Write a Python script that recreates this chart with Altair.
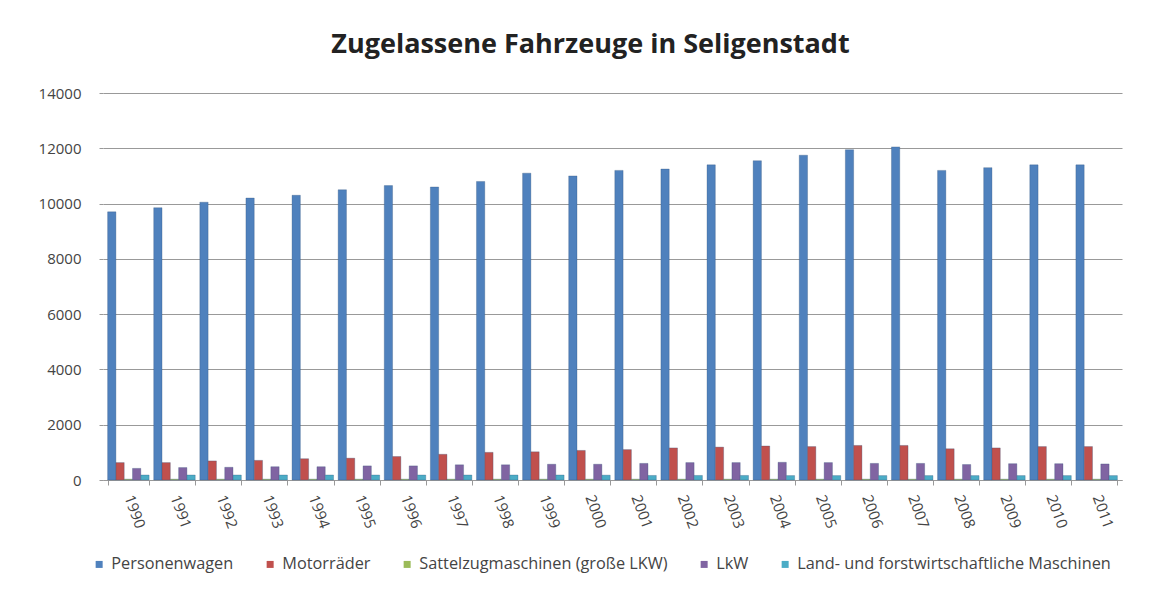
import altair as alt
import pandas as pd

years = [str(y) for y in range(1990, 2012)]
series = ["Personenwagen", "Motorräder", "Sattelzugmaschinen (große LKW)", "LkW",
          "Land- und forstwirtschaftliche Maschinen"]
colors = ["#4F81BD", "#C0504D", "#9BBB59", "#8064A2", "#4BACC6"]

pkw = [9700, 9850, 10050, 10200, 10300, 10500, 10650, 10600, 10800, 11100, 11000,
       11200, 11250, 11400, 11550, 11750, 11950, 12050, 11200, 11300, 11400, 11400]
motorraeder = [630, 630, 690, 710, 770, 790, 850, 930, 1000, 1020, 1070,
               1100, 1160, 1190, 1230, 1210, 1250, 1250, 1130, 1160, 1210, 1210]
sattelzug = [30, 30, 30, 30, 30, 30, 30, 30, 30, 30, 30,
             30, 30, 30, 30, 30, 30, 30, 30, 30, 30, 30]
lkw = [420, 450, 460, 480, 480, 510, 510, 550, 550, 570, 570,
       600, 630, 630, 640, 630, 600, 600, 560, 590, 590, 580]
landforst = [180, 180, 180, 180, 180, 180, 180, 180, 180, 180, 175,
             165, 165, 165, 160, 160, 160, 160, 160, 160, 160, 160]

values = [pkw, motorraeder, sattelzug, lkw, landforst]
rows = []
for s, vals in zip(series, values):
    for y, v in zip(years, vals):
        rows.append({"Jahr": y, "Serie": s, "Wert": v})
df = pd.DataFrame(rows)

FONT = "Open Sans"

chart = alt.Chart(df).mark_bar(strokeWidth=0.6, strokeOpacity=0.5, stroke="#2f4f7a").encode(
    x=alt.X("Jahr:N", sort=years, title=None,
            scale=alt.Scale(paddingInner=0.1, paddingOuter=0.1),
            axis=alt.Axis(labelAngle=70, labelAlign="left", labelBaseline="middle",
                          labelPadding=10, tickBand="extent", ticks=True, tickSize=5,
                          tickColor="#999999", domainColor="#999999",
                          labelFont=FONT, labelFontSize=15, labelColor="#444444",
                          grid=False)),
    xOffset=alt.XOffset("Serie:N", sort=series, scale=alt.Scale(paddingInner=0, paddingOuter=0)),
    y=alt.Y("Wert:Q", title=None,
            scale=alt.Scale(domain=[0, 14000], nice=False),
            axis=alt.Axis(values=[0, 2000, 4000, 6000, 8000, 10000, 12000, 14000],
                          format="d", domain=False, ticks=True, tickSize=4,
                          tickColor="#999999", gridColor="#999999", gridWidth=1,
                          labelFont=FONT, labelFontSize=15, labelColor="#444444",
                          labelPadding=18)),
    color=alt.Color("Serie:N", sort=series,
                    scale=alt.Scale(domain=series, range=colors),
                    legend=alt.Legend(title=None, orient="none", direction="horizontal",
                                      legendX=-12, legendY=463, symbolType="square",
                                      symbolSize=49, symbolStrokeWidth=0,
                                      labelFont=FONT, labelFontSize=16.3,
                                      labelColor="#444444", labelOffset=4,
                                      labelLimit=500,
                                      columnPadding=28, columns=5)),
).properties(
    width=1019,
    height=387,
    title=alt.TitleParams("Zugelassene Fahrzeuge in Seligenstadt", font=FONT,
                          fontSize=27, fontWeight="bold", color="#222222",
                          anchor="middle", dx=-22, offset=27),
    autosize=alt.AutoSizeParams(type="none"),
    padding={"left": 95, "top": 85, "right": 20, "bottom": 100},
).configure_view(stroke=None)

chart.save("out.html", embed_options={"renderer": "svg", "actions": False})
